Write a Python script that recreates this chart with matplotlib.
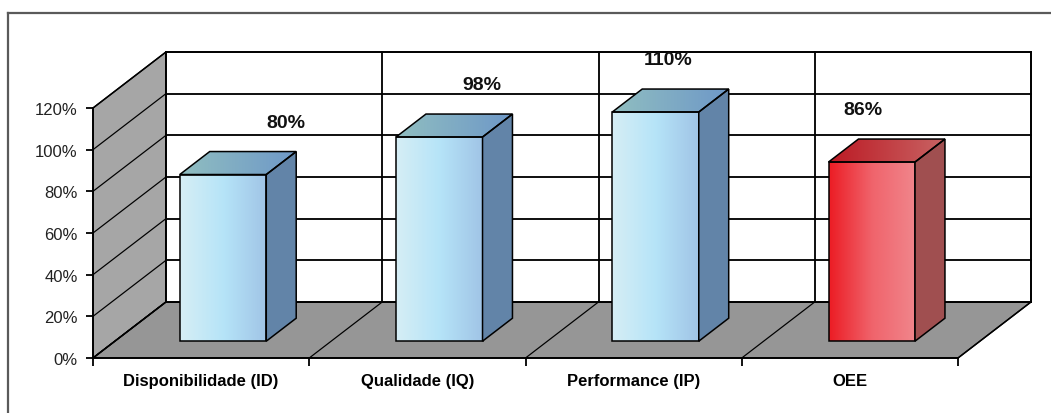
import numpy as np
import matplotlib
matplotlib.use('Agg')
import matplotlib.pyplot as plt
from matplotlib.patches import Polygon
from matplotlib.colors import to_rgb
from matplotlib.lines import Line2D
from matplotlib.ticker import PercentFormatter

categories = ['Disponibilidade (ID)', 'Qualidade (IQ)', 'Performance (IP)', 'OEE']
values = [80, 98, 110, 86]
value_labels = ['80%', '98%', '110%', '86%']
y_ticks = [0, 20, 40, 60, 80, 100, 120]

# fake 3d geometry (data units)
DX, DY = 0.3376, 26.9          # depth offset of back wall
F0, F1 = 0.30, 0.71            # bar front/back depth fraction
BAR_W = 0.40
LABEL_SHIFT = [0.39, 0.30, 0.16, 0.06]

blue = dict(front=['#d6eef5', '#b6e4f8', '#a0c4e6'], side='#6284a8',
            top=['#90bec0', '#6e98c8'])
red = dict(front=['#ec1c24', '#f0646c', '#f0868c'], side='#a04f50',
           top=['#bc1a24', '#c86464'])
styles = [blue, blue, blue, red]

plt.rcParams['font.family'] = ['Liberation Sans', 'DejaVu Sans']

fig = plt.figure(figsize=(10.51, 4.14), dpi=100)
ax = fig.add_axes([93 / 1051, 55 / 414, 865 / 1051, 250 / 414])
ax.set_xlim(0, 4)
ax.set_ylim(0, 120)

n = len(categories)
LW = 1.1


def grad_img(stops, x0, x1, y0, y1, clip=None, z=3):
    cols = np.array([to_rgb(c) for c in stops])
    t = np.linspace(0, 1, 200)
    pos = np.linspace(0, 1, len(stops))
    arr = np.stack([np.interp(t, pos, cols[:, k]) for k in range(3)], axis=-1)[None, :, :]
    im = ax.imshow(arr, extent=(x0, x1, y0, y1), aspect='auto', origin='lower',
                   interpolation='bilinear', zorder=z)
    if clip is not None:
        im.set_clip_path(clip)
    im.set_clip_box(fig.bbox)
    return im


# side wall, floor, back wall
ax.add_patch(Polygon([(0, 0), (0, 120), (DX, 120 + DY), (DX, DY)], closed=True,
                     fc='#a6a6a6', ec='black', lw=LW, clip_on=False, zorder=1))
ax.add_patch(Polygon([(0, 0), (n, 0), (n + DX, DY), (DX, DY)], closed=True,
                     fc='#969696', ec='black', lw=LW, clip_on=False, zorder=1))
ax.add_patch(Polygon([(DX, DY), (n + DX, DY), (n + DX, 120 + DY), (DX, 120 + DY)],
                     closed=True, fc='white', ec='black', lw=LW, clip_on=False, zorder=1))

for t in y_ticks:
    ax.plot([DX, n + DX], [t + DY, t + DY], color='black', lw=LW * 1.2, clip_on=False, zorder=2)
    ax.plot([0, DX], [t, t + DY], color='black', lw=LW * 0.8, clip_on=False, zorder=2)
for i in range(n + 1):
    ax.plot([i + DX, i + DX], [DY, 120 + DY], color='black', lw=LW * 1.2, clip_on=False, zorder=2)
    ax.plot([i, i + DX], [0, DY], color='black', lw=LW * 0.8, clip_on=False, zorder=2)

# bars
ddx, ddy = (F1 - F0) * DX, (F1 - F0) * DY
for i, (v, st) in enumerate(zip(values, styles)):
    xl = i + 0.5 - BAR_W / 2 + F0 * DX
    xr = xl + BAR_W
    yb = F0 * DY
    yt = yb + v
    grad_img(st['front'], xl, xr, yb, yt, z=4)
    ax.add_patch(Polygon([(xl, yb), (xr, yb), (xr, yt), (xl, yt)], closed=True,
                         fill=False, ec='black', lw=LW, clip_on=False, zorder=5))
    ax.add_patch(Polygon([(xr, yb), (xr + ddx, yb + ddy), (xr + ddx, yt + ddy), (xr, yt)],
                         closed=True, fc=st['side'], ec='black', lw=LW,
                         clip_on=False, zorder=5))
    top = Polygon([(xl, yt), (xr, yt), (xr + ddx, yt + ddy), (xl + ddx, yt + ddy)],
                  closed=True, fill=False, ec='black', lw=LW, clip_on=False, zorder=6)
    ax.add_patch(top)
    grad_img(st['top'], xl, xr + ddx, yt, yt + ddy, clip=top, z=4)
    ax.text(i + 0.5 + LABEL_SHIFT[i], yt + 25, value_labels[i], ha='center', va='center',
            fontsize=14, fontweight='bold', color='#111111', clip_on=False, zorder=7)

# axes
for s in ['top', 'right']:
    ax.spines[s].set_visible(False)
for s in ['left', 'bottom']:
    ax.spines[s].set_linewidth(1.3)
    ax.spines[s].set_zorder(3)
ax.set_yticks(y_ticks)
ax.yaxis.set_major_formatter(PercentFormatter(decimals=0))
ax.tick_params(axis='y', length=5, width=1.3, pad=6, labelsize=12, labelcolor='#222222')
ax.set_xticks(range(n + 1))
ax.set_xticklabels([])
ax.set_xticks(np.arange(n) + 0.5, minor=True)
ax.set_xticklabels(categories, minor=True, fontsize=12, fontweight='bold')
ax.tick_params(axis='x', which='major', length=6, width=1.3)
ax.tick_params(axis='x', which='minor', length=0, pad=11)
ax.set_facecolor('none')

# outer frame
fig.add_artist(Line2D([8 / 1051, 8 / 1051], [0, 1 - 14 / 414], color='#5a5a5a', lw=1.6))
fig.add_artist(Line2D([8 / 1051, 1], [1 - 14 / 414, 1 - 14 / 414], color='#5a5a5a', lw=1.6))

fig.savefig('out.png', dpi=100)
